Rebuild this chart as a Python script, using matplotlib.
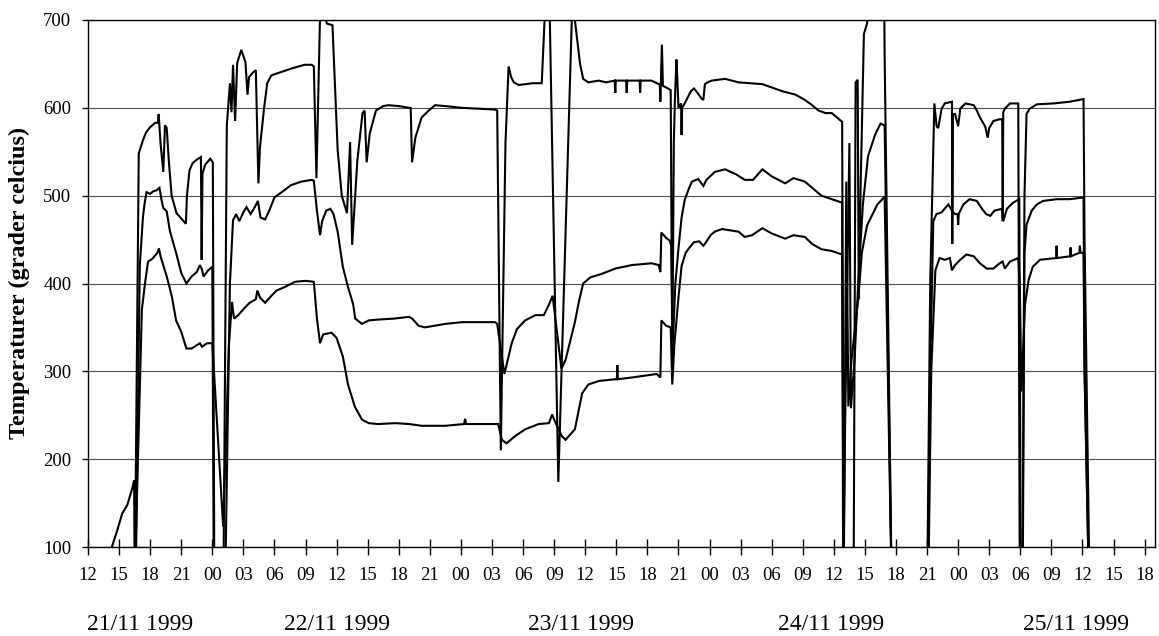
import matplotlib
matplotlib.use("Agg")
import matplotlib.pyplot as plt
import matplotlib.transforms as mtransforms

plt.rcParams["font.family"] = ["Liberation Serif", "DejaVu Serif"]

# hours counted from 21/11 1999 12:00, temperatures in grader celcius
top_hours = [0, 4.45, 4.55, 4.9, 5.3, 5.6, 6.0, 6.5, 6.75, 6.82, 7.0, 7.27, 7.43, 7.6, 7.8, 8.07,
             8.55, 9.0, 9.45, 9.55, 9.8, 10.1, 10.5, 10.9, 10.97, 11.05, 11.3, 11.8, 12.05, 12.2,
             13.0, 13.1, 13.4, 13.7, 13.85, 14.0, 14.2, 14.4, 14.8, 15.2, 15.4, 15.55, 15.9, 16.2,
             16.45, 16.6, 16.75, 17.0, 17.3, 17.7, 18.7, 19.7, 20.9, 21.6, 21.8, 22.05, 22.4, 22.6,
             22.95, 23.05, 23.6, 24.1, 24.5, 25.0, 25.3, 25.5, 26.0, 26.5, 26.7, 26.9, 27.2, 27.8,
             28.5, 29.0, 30.0, 31.0, 31.15, 31.28, 31.6, 32.2, 32.9, 33.5, 34.5, 36.1, 37.7, 39.3,
             39.5, 39.85, 40.3, 40.6, 40.85, 41.1, 41.6, 42.9, 43.8, 44.0, 44.15, 44.55, 45.4, 46.7,
             46.85, 47.0, 47.5, 47.8, 48.3, 49.3, 50.0, 50.85, 50.9, 50.95, 51.95, 52.0, 52.05,
             53.25, 53.3, 53.35, 54.4, 55.1, 55.2, 55.25, 55.3, 55.4, 55.5, 56.0, 56.25, 56.4,
             56.55, 56.65, 56.8, 56.9, 57.0, 57.25, 57.3, 57.35, 57.6, 57.9, 58.2, 58.5, 58.9,
             59.2, 59.4, 59.55, 59.8, 60.2, 61.5, 62.8, 65.1, 67.0, 68.3, 69.2, 69.9, 70.5, 71.2,
             71.8, 72.4, 72.8, 72.95, 73.9, 74.1, 74.3, 74.4, 74.6, 74.9, 75.2, 75.4, 76.85, 76.9,
             77.6, 81.0, 81.3, 81.7, 81.92, 82.08, 82.4, 82.7, 83.4, 83.43, 83.5, 83.7, 84.0, 84.2,
             84.7, 85.5, 85.8, 86.1, 86.6, 86.85, 87.0, 87.4, 88.0, 88.25, 88.3, 88.35, 88.5, 89.0,
             89.8, 89.95, 90.2, 90.4, 90.6, 90.9, 91.6, 93.2, 94.8, 96.1, 96.2, 96.7, 97.0]
top_temps = [40, 40, 100, 548, 563, 572, 578, 583, 583, 593, 560, 527, 580, 577, 540, 500,
             480, 474, 468, 500, 529, 537, 541, 544, 427, 525, 535, 542, 538, 40,
             40, 100, 580, 628, 595, 649, 585, 651, 666, 652, 615, 635, 640, 643,
             514, 555, 572, 600, 628, 637, 641, 645, 649, 649, 647, 520, 705, 712,
             702, 696, 694, 552, 500, 480, 561, 444, 540, 594, 597, 538, 571, 597,
             602, 603, 602, 600, 600, 538, 566, 589, 597, 603, 602, 600, 599, 598,
             597, 210, 560, 647, 635, 629, 626, 628, 628, 680, 720, 720, 174, 700,
             712, 700, 650, 633, 629, 631, 629, 631, 617, 631, 631, 617, 631,
             631, 617, 631, 631, 627, 626, 607, 628, 672, 625, 622, 620, 305,
             560, 607, 655, 630, 600, 605, 569, 600, 605, 612, 619, 622, 616,
             611, 609, 627, 629, 631, 633, 629, 627, 619, 615, 609, 603, 597, 594,
             594, 588, 584, 40, 40, 629, 632, 382, 520, 684, 696, 720, 740, 660,
             40, 40, 400, 605, 579, 577, 599, 605, 607, 445, 593, 593, 579, 599,
             605, 603, 597, 589, 579, 566, 577, 585, 587, 587, 471, 595, 599, 605,
             605, 40, 40, 500, 593, 599, 604, 605, 607, 610, 450, 40, 40]

mid_hours = [0, 4.5, 4.65, 5.0, 5.3, 5.45, 5.65, 6.0, 6.3, 6.6, 6.9, 7.1, 7.27, 7.6, 7.9, 8.5,
             9.0, 9.5, 10.0, 10.5, 10.8, 11.0, 11.15, 11.6, 12.0, 12.15, 13.15, 13.3, 13.7, 14.0,
             14.3, 14.6, 15.0, 15.3, 15.7, 16.1, 16.4, 16.65, 17.1, 17.5, 18.0, 18.7, 19.6, 20.6,
             21.6, 21.8, 22.1, 22.4, 22.6, 23.0, 23.4, 23.7, 24.1, 24.6, 25.1, 25.6, 25.8, 26.45,
             27.1, 28.1, 29.5, 31.0, 31.3, 31.9, 32.5, 34.5, 36.1, 39.3, 39.5, 40.2, 40.9, 41.4,
             42.2, 43.2, 44.0, 44.5, 44.85, 45.7, 46.1, 47.0, 47.4, 47.8, 48.5, 49.6, 50.9, 52.5,
             54.4, 55.1, 55.25, 55.35, 55.8, 56.15, 56.3, 56.45, 56.7, 57.0, 57.3, 57.6, 58.0,
             58.3, 58.9, 59.4, 59.7, 60.5, 61.5, 62.6, 63.4, 64.2, 65.1, 66.0, 67.3, 68.1, 69.2,
             70.0, 70.8, 71.8, 72.8, 72.9, 73.1, 73.5, 73.65, 74.0, 74.35, 74.8, 75.3, 76.0, 76.5,
             76.9, 77.6, 81.05, 81.3, 81.6, 81.9, 82.4, 83.05, 83.4, 83.7, 83.95, 84.0, 84.05,
             84.5, 85.1, 85.8, 86.3, 86.7, 87.1, 87.5, 88.2, 88.35, 88.7, 89.3, 89.9, 90.05, 90.25,
             90.4, 90.6, 91.1, 91.6, 92.2, 93.5, 94.8, 96.1, 96.2, 96.65, 97.0]
mid_temps = [40, 40, 100, 420, 475, 490, 504, 502, 505, 506, 509, 495, 486, 482, 460, 435,
             412, 400, 408, 413, 421, 416, 408, 415, 419, 40, 40, 100, 400, 472,
             479, 471, 481, 487, 479, 487, 494, 475, 473, 483, 498, 504, 512, 516,
             518, 517, 483, 455, 471, 483, 485, 479, 459, 419, 396, 376, 360, 354,
             358, 359, 360, 362, 360, 352, 350, 354, 356, 356, 354, 297, 332, 348,
             358, 364, 364, 376, 386, 303, 313, 356, 380, 400, 407, 411, 417, 421,
             423, 421, 413, 458, 452, 449, 443, 330, 400, 440, 475, 495, 508,
             516, 519, 511, 518, 527, 530, 524, 518, 518, 530, 522, 514, 520, 516,
             508, 500, 496, 492, 50, 250, 560, 258, 313, 401, 490, 545, 570, 582,
             580, 40, 40, 300, 471, 479, 481, 490, 483, 479, 479, 467, 479,
             490, 496, 494, 485, 479, 477, 483, 485, 471, 485, 492, 496, 40, 100,
             435, 467, 483, 490, 494, 496, 496, 498, 300, 40, 40]

low_hours = [0, 2.0, 2.3, 2.8, 3.3, 3.8, 4.3, 4.45, 4.52, 4.6, 5.2, 5.5, 5.8, 6.2, 6.7, 6.85,
             7.0, 7.6, 8.1, 8.5, 9.0, 9.5, 10.0, 10.8, 11.0, 11.5, 12.0, 13.05, 13.6, 13.9, 14.1,
             14.5, 15.1, 15.6, 16.2, 16.35, 16.6, 17.1, 17.7, 18.2, 19.0, 20.0, 21.0, 21.8, 22.1,
             22.4, 22.7, 23.5, 24.0, 24.6, 25.1, 25.75, 26.45, 27.1, 28.0, 29.7, 31.0, 32.2, 34.5,
             36.3, 36.4, 36.5, 39.3, 39.6, 39.95, 40.4, 41.2, 42.2, 43.5, 44.5, 44.8, 45.0, 45.75,
             46.1, 47.0, 47.7, 48.3, 49.3, 50.9, 51.05, 51.1, 51.15, 52.5, 54.9, 55.25, 55.35,
             55.8, 56.25, 56.4, 56.6, 57.0, 57.3, 57.7, 58.0, 58.5, 59.0, 59.4, 59.6, 60.1, 60.5,
             61.2, 62.8, 63.4, 64.1, 65.1, 66.0, 67.3, 68.1, 69.2, 69.9, 70.8, 71.8, 72.8, 72.95,
             73.2, 73.4, 73.7, 74.35, 74.7, 75.2, 75.7, 76.2, 76.6, 76.9, 77.6, 81.1, 81.4, 81.8,
             82.2, 82.7, 83.2, 83.4, 83.7, 84.2, 84.8, 85.5, 86.1, 86.75, 87.4, 88.0, 88.3, 88.5,
             89.0, 89.8, 89.95, 90.1, 90.45, 90.8, 91.2, 91.9, 93.45, 93.5, 93.55, 94.8, 94.85,
             94.9, 95.7, 95.75, 95.8, 96.1, 96.2, 96.65, 97.0]
low_temps = [40, 85, 100, 118, 138, 148, 168, 176, 40, 100, 370, 400, 425, 428, 435, 440,
             431, 408, 385, 358, 345, 326, 326, 332, 328, 332, 332, 123, 330, 379, 360,
             364, 372, 378, 382, 392, 384, 378, 386, 392, 396, 402, 403, 402, 360,
             332, 342, 344, 338, 317, 285, 260, 245, 241, 240, 241, 240, 238, 238,
             240, 246, 240, 240, 240, 222, 218, 226, 234, 240, 241, 251, 245, 226,
             222, 234, 275, 285, 289, 291, 291, 307, 291, 293, 297, 293, 358,
             352, 350, 285, 330, 384, 420, 435, 440, 447, 448, 443, 446, 455, 459,
             462, 459, 453, 455, 463, 457, 451, 455, 453, 445, 439, 437, 433, 50,
             516, 260, 313, 382, 435, 466, 478, 490, 495, 499, 40, 40, 300, 415,
             429, 427, 429, 415, 421, 427, 433, 431, 423, 417, 417, 423, 425, 417,
             425, 429, 400, 277, 376, 404, 419, 427, 429, 443, 429, 431, 441,
             431, 435, 443, 435, 435, 300, 40, 40]

tick_hours = list(range(0, 103, 3))
tick_labels = ["12", "15", "18", "21",
               "00", "03", "06", "09", "12", "15", "18", "21",
               "00", "03", "06", "09", "12", "15", "18", "21",
               "00", "03", "06", "09", "12", "15", "18", "21",
               "00", "03", "06", "09", "12", "15", "18"]
day_labels = ["21/11 1999", "22/11 1999", "23/11 1999", "24/11 1999", "25/11 1999"]
day_label_hours = [5.0, 24.0, 47.6, 71.7, 95.4]

W, H = 1159, 636
fig = plt.figure(figsize=(W / 100, H / 100), dpi=100)
ax = fig.add_axes([88 / W, 1 - 547 / H, (1155 - 88) / W, 527 / H])

for hours, temps in ((top_hours, top_temps), (mid_hours, mid_temps), (low_hours, low_temps)):
    ax.plot(hours, temps, color="black", lw=1.5, solid_joinstyle="miter")

ax.set_xlim(0, 103)
ax.set_ylim(100, 700)
ax.set_yticks(range(100, 701, 100))
ax.set_xticks(tick_hours)
ax.set_xticklabels(tick_labels)
ax.yaxis.grid(True, color="#4d4d4d", lw=0.8)
ax.set_axisbelow(True)

for side in ("left", "bottom", "top", "right"):
    ax.spines[side].set_linewidth(1.0)
    ax.spines[side].set_color("black")

ax.tick_params(axis="x", direction="inout", length=11, width=1, pad=9, labelsize=13.5)
ax.tick_params(axis="y", direction="out", length=4, width=1, pad=8, labelsize=13.5)

trans = mtransforms.blended_transform_factory(ax.transData, ax.transAxes)
for h, lab in zip(day_label_hours, day_labels):
    ax.text(h, -0.148, lab, transform=trans, ha="center", va="center", fontsize=17)

fig.text(19 / W, 1 - 283 / H, "Temperaturer (grader celcius)", rotation=90,
         ha="center", va="center", fontsize=17.5, fontweight="bold")

fig.savefig("out.png", dpi=100)
